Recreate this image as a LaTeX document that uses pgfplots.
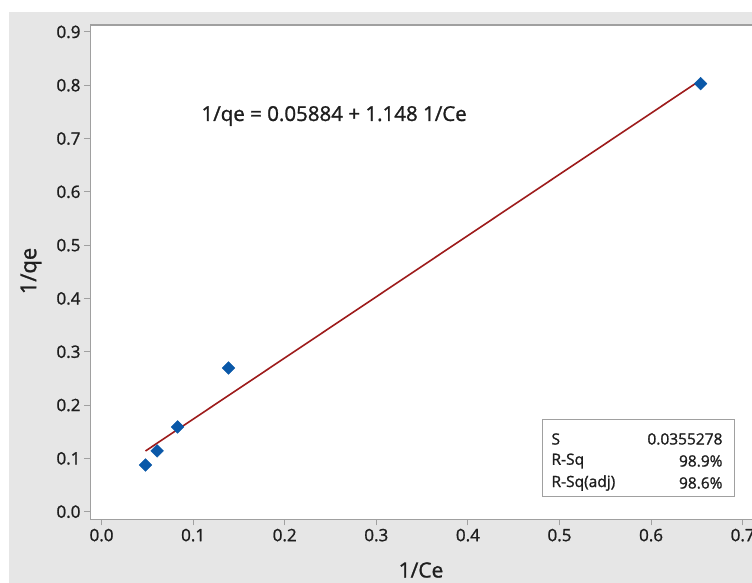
\documentclass[border=0pt]{standalone}
\usepackage{pgfplots}
\pgfplotsset{compat=1.18}
\usepackage{fontspec}
\setmainfont{Open Sans}[FakeBold=1.2]
\definecolor{bg}{HTML}{E6E6E6}
\definecolor{axgray}{HTML}{A0A0A0}
\definecolor{ptblue}{HTML}{0A58A8}
\definecolor{fitred}{HTML}{9E1B1B}
\definecolor{txt}{HTML}{1E1E1E}
\begin{document}
\begin{tikzpicture}
\fill[bg] (9pt,-12pt) rectangle (775pt,-583pt);
\begin{axis}[
  at={(90pt,-519.3pt)}, anchor=south west,
  scale only axis, width=671pt, height=494.3pt,
  xmin=-0.0126, xmax=0.72, ymin=-0.0143, ymax=0.913,
  axis background/.style={fill=white},
  axis line style={axgray, line width=1pt},
  tick style={axgray, line width=1pt},
  tick align=outside, major tick length=6pt,
  tick pos=left,
  xtick={0,0.1,0.2,0.3,0.4,0.5,0.6,0.7},
  ytick={0,0.1,0.2,0.3,0.4,0.5,0.6,0.7,0.8,0.9},
  xticklabel style={/pgf/number format/fixed, /pgf/number format/precision=1, /pgf/number format/fixed zerofill},
  yticklabel style={/pgf/number format/fixed, /pgf/number format/precision=1, /pgf/number format/fixed zerofill},
  /pgf/number format/assume math mode=true,
  tick label style={font=\fontsize{17}{17}\selectfont, text=txt},
  clip=false,
]
\addplot[fitred, line width=1.6pt] coordinates {(0.048,0.1139) (0.654,0.8096)};
\addplot[only marks, mark=square*, mark size=4.5pt, mark options={rotate=45, fill=ptblue, draw=ptblue, rounded corners=1pt}]
  coordinates {(0.048,0.0876) (0.0607,0.114) (0.083,0.159) (0.1386,0.2696) (0.654,0.803)};
\end{axis}
\node[anchor=west, text=txt, font=\fontsize{20.5}{20.5}\selectfont] at (198pt,-116pt) {1/qe = 0.05884 + 1.148 1/Ce};
\node[text=txt, font=\fontsize{21}{21}\selectfont] at (421pt,-570pt) {1/Ce};
\node[text=txt, font=\fontsize{22}{22}\selectfont, rotate=90] at (31pt,-271pt) {1/qe};
\draw[axgray, fill=white, line width=1pt] (542pt,-419pt) rectangle (734pt,-496pt);
\begin{scope}[every node/.style={text=txt, font=\fontsize{15.5}{15.5}\selectfont}]
\node[anchor=west] at (548pt,-439pt) {S};
\node[anchor=west] at (548pt,-461pt) {R-Sq};
\node[anchor=west] at (548pt,-483pt) {R-Sq(adj)};
\node[anchor=east] at (726pt,-439pt) {0.0355278};
\node[anchor=east] at (726pt,-461pt) {98.9\%};
\node[anchor=east] at (726pt,-483pt) {98.6\%};
\end{scope}
\pgfresetboundingbox
\useasboundingbox (0pt,0pt) rectangle (752pt,-583pt);
\end{tikzpicture}
\end{document}
